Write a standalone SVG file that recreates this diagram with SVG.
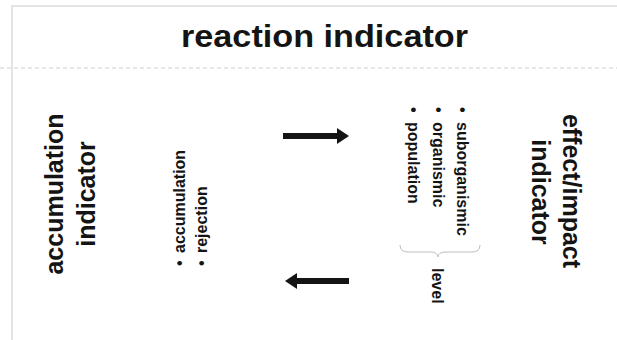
<svg xmlns="http://www.w3.org/2000/svg" width="617" height="340" viewBox="0 0 617 340">
<style>
.t{font-family:"Liberation Sans",Arial,sans-serif;font-weight:bold;fill:#141414}
.big{font-size:25px}
.md{font-size:16px}
.frame{stroke:#dcdcdc;stroke-width:1.5;fill:none}
.dash{stroke:#cfcfcf;stroke-width:1;stroke-dasharray:4 3;fill:none}
.arrow{stroke:#141414;stroke-width:6;fill:none}
.brace{stroke:#bdbdbd;stroke-width:1;fill:none}
</style>
<defs>
<marker id="head" markerUnits="userSpaceOnUse" markerWidth="12" markerHeight="16" refX="0" refY="8" orient="auto">
<path d="M0,0 L12,8 L0,16 z" fill="#141414"/>
</marker>
</defs>
<rect width="617" height="340" fill="#fff"/>
<path class="frame" d="M12,340 V6 H617"/>
<line class="dash" x1="0" y1="68" x2="617" y2="68"/>
<g id="title">
<text class="t" x="181" y="47" font-size="32" textLength="287" lengthAdjust="spacingAndGlyphs">reaction indicator</text>
</g>
<g id="accumulation-indicator">
<text class="t big" text-anchor="middle" transform="translate(63,194) rotate(-90)">accumulation</text>
<text class="t big" text-anchor="middle" transform="translate(95,194) rotate(-90)">indicator</text>
</g>
<g id="accumulation-list">
<text class="t md" transform="translate(185,266) rotate(-90)">•</text>
<text class="t md" transform="translate(185,253) rotate(-90)">accumulation</text>
<text class="t md" transform="translate(207,266) rotate(-90)">•</text>
<text class="t md" transform="translate(207,253) rotate(-90)">rejection</text>
</g>
<g id="effect-indicator">
<text class="t big" text-anchor="middle" transform="translate(563,191) rotate(90)">effect/impact</text>
<text class="t big" text-anchor="middle" transform="translate(532,192) rotate(90)">indicator</text>
</g>
<g id="effect-list">
<text class="t md" transform="translate(457,107) rotate(90)">•</text>
<text class="t md" transform="translate(457,122) rotate(90)">suborganismic</text>
<text class="t md" transform="translate(433,107) rotate(90)">•</text>
<text class="t md" transform="translate(433,122) rotate(90)">organismic</text>
<text class="t md" transform="translate(408,107) rotate(90)">•</text>
<text class="t md" transform="translate(408,122) rotate(90)">population</text>
</g>
<g id="level">
<path class="brace" d="M400,245 Q400,252 408,252 L430,252 Q438,252 438,257 Q438,252 446,252 L472,252 Q480,252 480,245"/>
<text class="t md" transform="translate(432,268) rotate(90)">level</text>
</g>
<g id="connectors">
<line class="arrow" x1="283" y1="136" x2="337" y2="136" marker-end="url(#head)"/>
<line class="arrow" x1="349" y1="281" x2="297" y2="281" marker-end="url(#head)"/>
</g>
</svg>
